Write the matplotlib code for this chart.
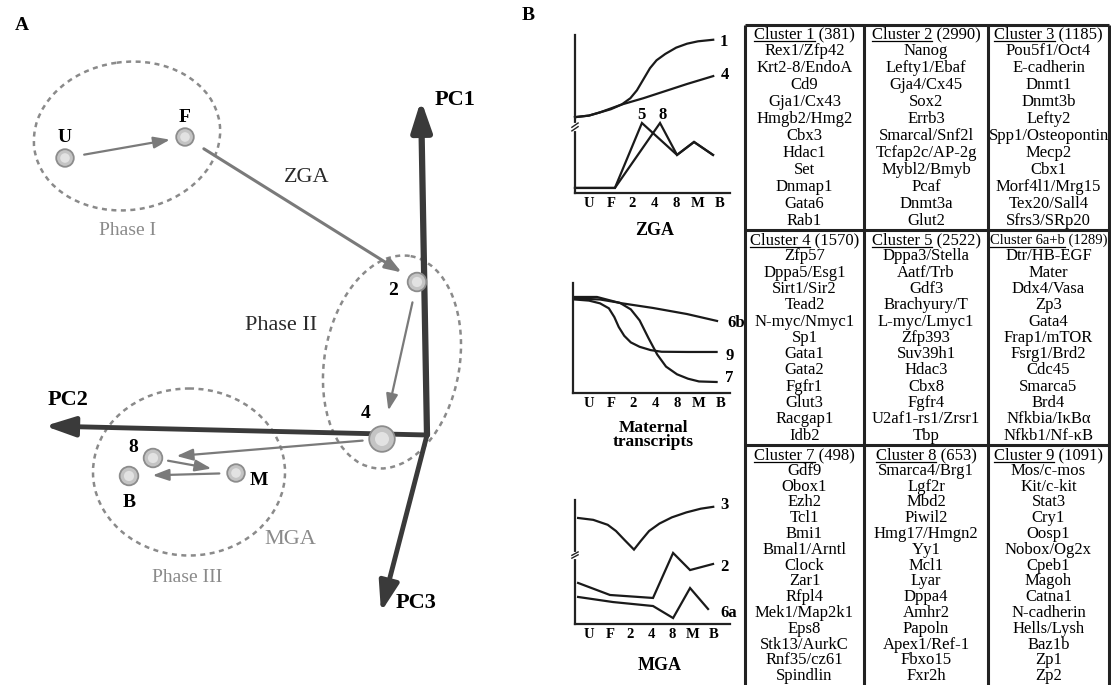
import matplotlib.pyplot as plt
from matplotlib.patches import Ellipse

plt.rcParams['font.family'] = ['Liberation Serif', 'DejaVu Serif']

# ---------------- panel A : PCA trajectory ----------------
stages = ['U', 'F', '2', '4', '8', 'M', 'B']
pca_x = [65, 185, 417, 382, 153, 236, 129]
pca_y = [158, 137, 282, 439, 458, 473, 476]
point_size = [160, 160, 180, 340, 180, 160, 180]

pc_names = ['PC1', 'PC2', 'PC3']
pc_tip_x = [421, 45, 381]
pc_tip_y = [100, 426, 612]
pc_origin = (427, 435)

phase_names = ['Phase I', 'Phase II', 'Phase III']
phase_cx = [127, 392, 189]
phase_cy = [136, 362, 472]
phase_w = [187, 135, 192]
phase_h = [148, 215, 167]
phase_angle = [-8, 10, 0]

# ---------------- panel B : profiles ----------------
stage_ticks = ['U', 'F', '2', '4', '8', 'M', 'B']

# ZGA
c1_x = [-0.64, 0, 0.5, 1.0, 1.5, 1.9, 2.2, 2.5, 2.8, 3.1, 3.5, 4.0, 4.5, 5.0, 5.7]
c1_y = [4.8, 4.9, 5.1, 5.3, 5.6, 6.0, 6.5, 7.2, 7.9, 8.4, 8.8, 9.2, 9.45, 9.6, 9.7]
c4_x = [-0.64, 0, 0.5, 1.0, 1.5, 2.5, 3.5, 4.5, 5.7]
c4_y = [4.8, 4.9, 5.1, 5.35, 5.6, 6.0, 6.45, 6.9, 7.4]
c5_x = [-0.64, 1.19, 2.43, 4.04, 4.82, 5.69]
c5_y = [0.32, 0.32, 4.43, 2.41, 3.23, 2.41]
c8_x = [-0.64, 1.19, 3.26, 4.04, 4.82, 5.69]
c8_y = [0.32, 0.32, 4.43, 2.41, 3.23, 2.41]

# maternal transcripts
c6b_x = [-0.64, 0.36, 1.41, 2.91, 4.45, 5.82]
c6b_y = [8.73, 8.73, 8.18, 7.73, 7.18, 6.55]
c9_x = [-0.64, 0, 0.5, 0.9, 1.15, 1.35, 1.6, 1.9, 2.3, 2.8, 3.3, 4.5, 5.8]
c9_y = [8.5, 8.4, 8.15, 7.7, 6.9, 6.0, 5.2, 4.6, 4.2, 3.9, 3.75, 3.73, 3.73]
c7_x = [-0.64, 0.5, 1.4, 1.9, 2.3, 2.7, 3.1, 3.5, 4.0, 4.5, 5.0, 5.8]
c7_y = [8.6, 8.5, 8.2, 7.6, 6.6, 5.0, 3.5, 2.4, 1.7, 1.3, 1.05, 1.0]

# MGA
c3_x = [-0.53, 0.2, 0.9, 1.3, 1.7, 2.17, 2.5, 2.9, 3.4, 4.0, 4.7, 5.4, 6.0]
c3_y = [8.55, 8.4, 8.0, 7.5, 6.8, 6.0, 6.7, 7.5, 8.1, 8.6, 9.0, 9.3, 9.45]
c2_x = [-0.53, 1.01, 3.09, 4.06, 4.88, 5.99]
c2_y = [3.31, 2.34, 2.10, 5.73, 4.35, 4.84]
c6a_x = [-0.53, 1.16, 3.09, 4.06, 4.88, 5.75]
c6a_y = [2.18, 1.77, 1.45, 0.48, 2.90, 1.21]

# ---------------- table ----------------
cluster_names = ['Cluster 1', 'Cluster 2', 'Cluster 3', 'Cluster 4', 'Cluster 5',
                 'Cluster 6a+b', 'Cluster 7', 'Cluster 8', 'Cluster 9']
cluster_sizes = [381, 2990, 1185, 1570, 2522, 1289, 498, 653, 1091]
genes_1 = ['Rex1/Zfp42', 'Krt2-8/EndoA', 'Cd9', 'Gja1/Cx43', 'Hmgb2/Hmg2', 'Cbx3',
           'Hdac1', 'Set', 'Dnmap1', 'Gata6', 'Rab1']
genes_2 = ['Nanog', 'Lefty1/Ebaf', 'Gja4/Cx45', 'Sox2', 'Errb3', 'Smarcal/Snf2l',
           'Tcfap2c/AP-2g', 'Mybl2/Bmyb', 'Pcaf', 'Dnmt3a', 'Glut2']
genes_3 = ['Pou5f1/Oct4', 'E-cadherin', 'Dnmt1', 'Dnmt3b', 'Lefty2', 'Spp1/Osteopontin',
           'Mecp2', 'Cbx1', 'Morf4l1/Mrg15', 'Tex20/Sall4', 'Sfrs3/SRp20']
genes_4 = ['Zfp57', 'Dppa5/Esg1', 'Sirt1/Sir2', 'Tead2', 'N-myc/Nmyc1', 'Sp1', 'Gata1',
           'Gata2', 'Fgfr1', 'Glut3', 'Racgap1', 'Idb2']
genes_5 = ['Dppa3/Stella', 'Aatf/Trb', 'Gdf3', 'Brachyury/T', 'L-myc/Lmyc1', 'Zfp393',
           'Suv39h1', 'Hdac3', 'Cbx8', 'Fgfr4', 'U2af1-rs1/Zrsr1', 'Tbp']
genes_6 = ['Dtr/HB-EGF', 'Mater', 'Ddx4/Vasa', 'Zp3', 'Gata4', 'Frap1/mTOR', 'Fsrg1/Brd2',
           'Cdc45', 'Smarca5', 'Brd4', 'Nfkbia/IκBα', 'Nfkb1/Nf-κB']
genes_7 = ['Gdf9', 'Obox1', 'Ezh2', 'Tcl1', 'Bmi1', 'Bmal1/Arntl', 'Clock', 'Zar1', 'Rfpl4',
           'Mek1/Map2k1', 'Eps8', 'Stk13/AurkC', 'Rnf35/cz61', 'Spindlin']
genes_8 = ['Smarca4/Brg1', 'Lgf2r', 'Mbd2', 'Piwil2', 'Hmg17/Hmgn2', 'Yy1', 'Mcl1', 'Lyar',
           'Dppa4', 'Amhr2', 'Papoln', 'Apex1/Ref-1', 'Fbxo15', 'Fxr2h']
genes_9 = ['Mos/c-mos', 'Kit/c-kit', 'Stat3', 'Cry1', 'Oosp1', 'Nobox/Og2x', 'Cpeb1',
           'Magoh', 'Catna1', 'N-cadherin', 'Hells/Lysh', 'Baz1b', 'Zp1', 'Zp2']
gene_lists = [genes_1, genes_2, genes_3, genes_4, genes_5, genes_6, genes_7, genes_8, genes_9]

fig = plt.figure(figsize=(11.11, 6.85), dpi=100)
ax = fig.add_axes([0, 0, 1, 1])
ax.set_xlim(0, 1111)
ax.set_ylim(685, 0)
ax.axis('off')

dark = '#2a2a2a'
gray = '#8a8a8a'

ax.text(22, 25, 'A', fontsize=14, fontweight='bold', ha='center', va='center')
ax.text(528, 15, 'B', fontsize=14, fontweight='bold', ha='center', va='center')

# phase ellipses
for cx, cy, w, h, a in zip(phase_cx, phase_cy, phase_w, phase_h, phase_angle):
    ax.add_patch(Ellipse((cx, cy), w, h, angle=a, fill=False, ec=gray, lw=1.8,
                         ls=(0, (2, 1.8)), zorder=1))

# PC axes
for name, tx, ty, lw in zip(pc_names, pc_tip_x, pc_tip_y, [4.5, 3.5, 3.5]):
    ax.annotate('', xy=(tx, ty), xytext=pc_origin,
                arrowprops=dict(arrowstyle='-|>,head_length=0.9,head_width=0.3',
                                lw=lw, color='#3a3a3a', mutation_scale=20,
                                shrinkA=0, shrinkB=0), zorder=2)
ax.text(455, 100, 'PC1', fontsize=16, fontweight='bold', ha='center', va='center')
ax.text(68, 400, 'PC2', fontsize=16, fontweight='bold', ha='center', va='center')
ax.text(416, 603, 'PC3', fontsize=16, fontweight='bold', ha='center', va='center')

# trajectory arrows (from stage, to stage, shrinkA, shrinkB, lw)
traj = [(0, 1, 14, 11, 1.6), (1, 2, 16, 13, 2.2), (2, 3, 15, 21, 1.6),
        (3, 4, 14, 17, 1.6), (4, 5, 11, 18, 1.6), (5, 6, 12, 17, 1.6)]
for a, b, sa, sb, lw in traj:
    ax.annotate('', xy=(pca_x[b], pca_y[b]), xytext=(pca_x[a], pca_y[a]),
                arrowprops=dict(arrowstyle='-|>,head_length=0.7,head_width=0.25',
                                lw=lw, color='#7a7a7a', mutation_scale=14,
                                shrinkA=sa, shrinkB=sb), zorder=3)

ax.scatter(pca_x, pca_y, s=point_size, c='#c4c4c4', edgecolors='#8c8c8c',
           linewidths=1.3, zorder=4)
ax.scatter(pca_x, pca_y, s=[v * 0.3 for v in point_size], c='#e2e2e2',
           edgecolors='none', zorder=5)

label_dx = [0, 0, -24, -16, -20, 23, 0]
label_dy = [-21, -20, 8, -26, -11, 7, 26]
for s, x, y, dx, dy in zip(stages, pca_x, pca_y, label_dx, label_dy):
    ax.text(x + dx, y + dy, s, fontsize=14, fontweight='bold', ha='center', va='center')

ax.text(307, 177, 'ZGA', fontsize=16, color=dark, ha='center', va='center')
ax.text(128, 230, 'Phase I', fontsize=14, color=gray, ha='center', va='center')
ax.text(281, 325, 'Phase II', fontsize=16, color=dark, ha='center', va='center')
ax.text(187, 578, 'Phase III', fontsize=14, color=gray, ha='center', va='center')
ax.text(290, 540, 'MGA', fontsize=16, color=gray, ha='center', va='center')

# ---------------- small profile panels ----------------
def profile_axes(rect, xlim, break_y):
    sa = fig.add_axes(rect)
    sa.patch.set_visible(False)
    sa.set_xlim(*xlim)
    sa.set_ylim(0, 10)
    for sp in ['top', 'right']:
        sa.spines[sp].set_visible(False)
    for sp in ['left', 'bottom']:
        sa.spines[sp].set_linewidth(1.6)
        sa.spines[sp].set_color('#222222')
    sa.set_xticks(range(7))
    sa.set_xticklabels(stage_ticks, fontsize=10.5, fontweight='bold')
    sa.set_yticks([])
    sa.tick_params(axis='x', length=0, pad=3)
    if break_y is not None:
        tr = sa.get_yaxis_transform()
        sa.plot([0, 0], [break_y - 0.12, break_y + 0.12], color='white', lw=3,
                transform=tr, clip_on=False, zorder=5)
        sa.plot([-0.02, 0.02], [break_y - 0.25, break_y + 0.02], color='#222222', lw=1,
                transform=tr, clip_on=False, zorder=6)
        sa.plot([-0.02, 0.02], [break_y - 0.02, break_y + 0.25], color='#222222', lw=1,
                transform=tr, clip_on=False, zorder=6)
    return sa

line_kw = dict(color='#1a1a1a', lw=1.6, solid_joinstyle='miter', clip_on=False)
lab_kw = dict(fontsize=12, fontweight='bold', va='center', clip_on=False)

z = profile_axes([575 / 1111, 1 - 193 / 685, 155 / 1111, 158 / 685], (-0.64, 6.47), 4.18)
z.plot(c1_x, c1_y, **line_kw)
z.plot(c4_x, c4_y, **line_kw)
z.plot(c5_x, c5_y, **line_kw)
z.plot(c8_x, c8_y, **line_kw)
z.text(6.0, 9.56, '1', ha='left', **lab_kw)
z.text(6.06, 7.47, '4', ha='left', **lab_kw)
z.text(2.43, 4.95, '5', ha='center', **lab_kw)
z.text(3.39, 4.95, '8', ha='center', **lab_kw)

m = profile_axes([573 / 1111, 1 - 393 / 685, 157 / 1111, 110 / 685], (-0.73, 6.41), None)
m.plot(c6b_x, c6b_y, **line_kw)
m.plot(c9_x, c9_y, **line_kw)
m.plot(c7_x, c7_y, **line_kw)
m.text(6.3, 6.36, '6b', ha='left', **lab_kw)
m.text(6.2, 3.36, '9', ha='left', **lab_kw)
m.text(6.2, 1.36, '7', ha='left', **lab_kw)

g = profile_axes([575 / 1111, 1 - 624 / 685, 155 / 1111, 124 / 685], (-0.68, 6.81), 5.56)
g.plot(c3_x, c3_y, **line_kw)
g.plot(c2_x, c2_y, **line_kw)
g.plot(c6a_x, c6a_y, **line_kw)
g.text(6.35, 9.6, '3', ha='left', **lab_kw)
g.text(6.35, 4.6, '2', ha='left', **lab_kw)
g.text(6.35, 0.9, '6a', ha='left', **lab_kw)

ax.text(655, 230, 'ZGA', fontsize=13, fontweight='bold', ha='center', va='center')
ax.text(653, 435, 'Maternal\ntranscripts', fontsize=12.5, fontweight='bold',
        ha='center', va='center', linespacing=0.85)
ax.text(660, 665, 'MGA', fontsize=13, fontweight='bold', ha='center', va='center')

# ---------------- table ----------------
col_left = [745, 864, 988]
col_right = [864, 988, 1109]
row_head_y = [34, 240, 455]
row_step = [17.0, 16.3, 15.8]
row_sep_y = [230, 445]
renderer = fig.canvas.get_renderer()
inv = ax.transData.inverted()

for k, (name, size, genes) in enumerate(zip(cluster_names, cluster_sizes, gene_lists)):
    r, c = divmod(k, 3)
    cx = (col_left[c] + col_right[c]) / 2
    y0 = row_head_y[r]
    cell_w = col_right[c] - col_left[c] - 3
    fs = 12
    t = ax.text(cx, y0, f'{name} ({size})', fontsize=fs, ha='center', va='center')
    bb = t.get_window_extent(renderer)
    if bb.width > cell_w:
        fs = fs * cell_w / bb.width
        t.set_fontsize(fs)
        bb = t.get_window_extent(renderer)
    tmp = ax.text(0, 0, name, fontsize=fs)
    w = tmp.get_window_extent(renderer).width
    tmp.remove()
    x0 = inv.transform((bb.x0, 0))[0]
    x1 = inv.transform((bb.x0 + w, 0))[0]
    ax.plot([x0, x1], [y0 + 6.5, y0 + 6.5], color='black', lw=0.9)
    for i, gname in enumerate(genes):
        ax.text(cx, y0 + row_step[r] * (i + 1), gname, fontsize=12, ha='center', va='center')

tab_kw = dict(color='#222222', lw=2.2, solid_capstyle='butt')
ax.plot([745, 1109], [25, 25], **tab_kw)
for x in [745, 864, 988, 1109]:
    ax.plot([x, x], [25, 685], **tab_kw)
for y in row_sep_y:
    ax.plot([745, 1109], [y, y], **tab_kw)

fig.savefig('out.png', dpi=100, facecolor='white')
